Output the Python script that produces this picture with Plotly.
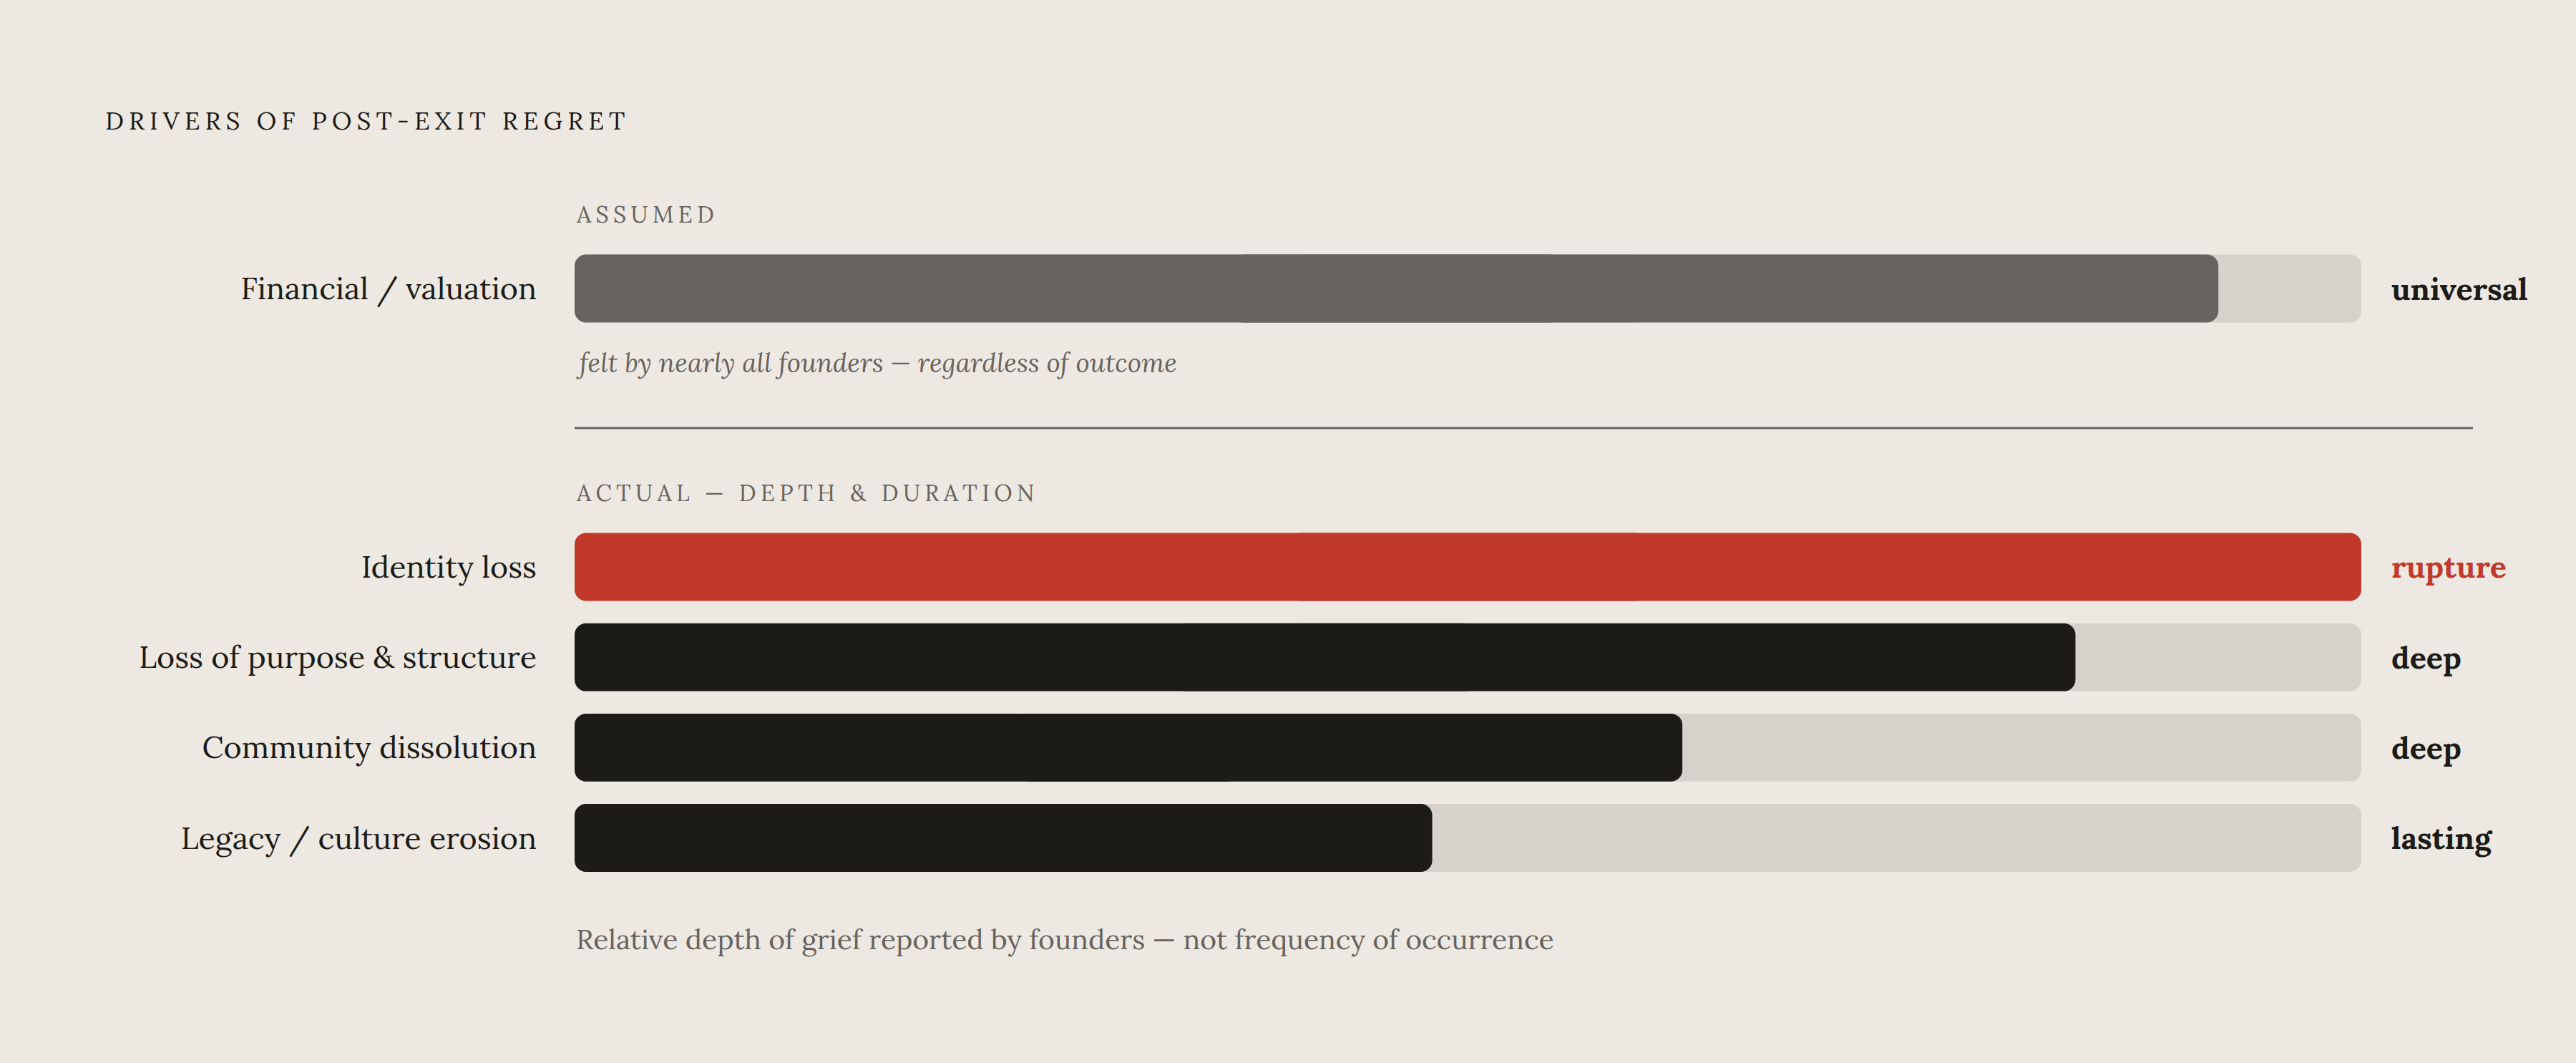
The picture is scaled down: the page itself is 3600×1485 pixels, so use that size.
"""Drivers of post-exit regret: assumed vs actual depth of grief."""
import plotly.graph_objects as go

# Data
assumed_labels = ["Financial / valuation"]
assumed_values = [92]
assumed_tags = ["universal"]

actual_labels = ["Identity loss", "Loss of purpose & structure",
                 "Community dissolution", "Legacy / culture erosion"]
actual_values = [100, 84, 62, 48]
actual_tags = ["rupture", "deep", "deep", "lasting"]

title_text = "DRIVERS OF POST-EXIT REGRET"
assumed_header = "ASSUMED"
assumed_note = "felt by nearly all founders — regardless of outcome"
actual_header = "ACTUAL — DEPTH & DURATION"
footer_text = "Relative depth of grief reported by founders — not frequency of occurrence"

# Style
W, H = 3600, 1485
BG = "#EDE9E2"
TRACK = "#D6D1CB"
INK = "#1C1B17"
MUTED = "#67635E"
RED = "#C0392B"
FONT = "Lora, 'DejaVu Serif', serif"
BAR_W = 0.752
RADIUS = 16


def px(x):
    return x / W


def py(y):
    return 1 - y / H


def spaced(s):
    # fake letter-spacing: thin space between every glyph
    return "\u2009".join(s)


def rounded_bars(labels, values, colors, xa, ya):
    """Two overlapping halves so both ends of the bar get rounded corners."""
    left = [v * 0.6 for v in values]
    right_base = [v * 0.4 for v in values]
    common = dict(y=labels, orientation="h", width=BAR_W, opacity=1,
                  marker=dict(color=colors, cornerradius=RADIUS, line_width=0),
                  xaxis=xa, yaxis=ya, hoverinfo="skip", showlegend=False)
    return [
        go.Bar(x=[-v for v in left], base=left, **common),
        go.Bar(x=[v - b for v, b in zip(values, right_base)], base=right_base, **common),
    ]


fig = go.Figure()

# tracks
for labels, xa, ya in [(assumed_labels, "x", "y"), (actual_labels, "x2", "y2")]:
    for tr in rounded_bars(labels, [100] * len(labels), [TRACK] * len(labels), xa, ya):
        fig.add_trace(tr)

# values
assumed_colors = [MUTED]
actual_colors = [RED if t == "rupture" else INK for t in actual_tags]
for tr in rounded_bars(assumed_labels, assumed_values, assumed_colors, "x", "y"):
    fig.add_trace(tr)
for tr in rounded_bars(actual_labels, actual_values, actual_colors, "x2", "y2"):
    fig.add_trace(tr)

x_domain = [px(803), px(3300)]
xaxis_common = dict(range=[0, 100], domain=x_domain, visible=False, fixedrange=True)
yaxis_common = dict(showgrid=False, zeroline=False, showline=False, ticks="",
                    ticklabelstandoff=52, fixedrange=True,
                    tickfont=dict(family=FONT, size=43, color=INK))

fig.update_layout(
    width=W, height=H,
    margin=dict(l=0, r=0, t=0, b=0),
    paper_bgcolor=BG, plot_bgcolor=BG,
    barmode="overlay",
    font=dict(family=FONT, color=INK),
    xaxis=dict(**xaxis_common, anchor="y"),
    xaxis2=dict(**xaxis_common, anchor="y2"),
    yaxis=dict(**yaxis_common, anchor="x", domain=[py(466.15), py(339.85)],
               categoryorder="array", categoryarray=assumed_labels, range=[0.5, -0.5]),
    yaxis2=dict(**yaxis_common, anchor="x2", domain=[py(1233.65), py(728.85)],
                categoryorder="array", categoryarray=actual_labels,
                range=[len(actual_labels) - 0.5, -0.5]),
)

# tag labels to the right of each track
for labels, tags, xa, ya in [(assumed_labels, assumed_tags, "x", "y"),
                             (actual_labels, actual_tags, "x2", "y2")]:
    for lab, tag in zip(labels, tags):
        fig.add_annotation(x=100, y=lab, xref=xa, yref=ya, text=f"<b>{tag}</b>",
                           showarrow=False, xanchor="left", yanchor="middle", xshift=40,
                           font=dict(family=FONT, size=43, color=RED if tag == "rupture" else INK))

# headers and notes
texts = [
    (spaced(title_text), 145, 168, 35, INK, False),
    (spaced(assumed_header), 803, 299, 32, MUTED, False),
    (assumed_note, 803, 506, 37, MUTED, True),
    (spaced(actual_header), 803, 689, 32, MUTED, False),
    (footer_text, 803, 1312, 39, MUTED, False),
]
for txt, x, y, size, color, italic in texts:
    fig.add_annotation(x=px(x), y=py(y), xref="paper", yref="paper", text=txt,
                       showarrow=False, xanchor="left", yanchor="middle",
                       font=dict(family=FONT, size=size, color=color,
                                 style="italic" if italic else "normal"))

# divider between assumed and actual
fig.add_shape(type="line", xref="paper", yref="paper",
              x0=px(803), x1=px(3456), y0=py(598), y1=py(598),
              line=dict(color=MUTED, width=3))

fig.write_html("out.html", config={"displayModeBar": False},
               post_script="document.body.style.margin='0';")
